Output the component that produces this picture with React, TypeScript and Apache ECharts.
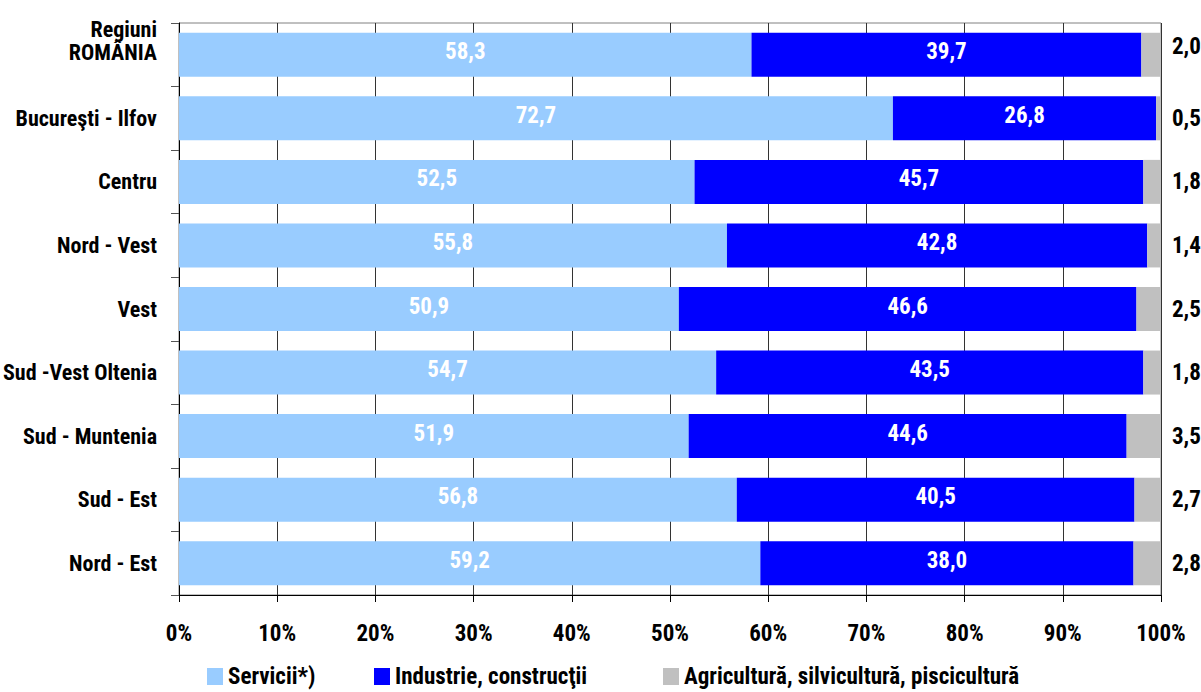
import React, { useEffect, useRef } from "react";
import * as echarts from "echarts";

const categories = [
  "Regiuni\nROMÂNIA",
  "Bucureşti - Ilfov",
  "Centru",
  "Nord - Vest",
  "Vest",
  "Sud -Vest Oltenia",
  "Sud - Muntenia",
  "Sud - Est",
  "Nord - Est",
];
const servicii = [58.3, 72.7, 52.5, 55.8, 50.9, 54.7, 51.9, 56.8, 59.2];
const industrie = [39.7, 26.8, 45.7, 42.8, 46.6, 43.5, 44.6, 40.5, 38.0];
const agricultura = [2.0, 0.5, 1.8, 1.4, 2.5, 1.8, 3.5, 2.7, 2.8];
const seriesNames = [
  "Servicii*)",
  "Industrie, construcţii",
  "Agricultură, silvicultură, piscicultură",
];
const colors = ["#99CCFF", "#0000FF", "#C0C0C0"];

const FONT = "'Liberation Sans Narrow', 'Arial Narrow', 'Roboto Condensed', Arial, sans-serif";
const fmt = (v: number) => v.toFixed(1).replace(".", ",");

export default function App() {
  const ref = useRef<HTMLDivElement>(null);
  useEffect(() => {
    if (!ref.current) return;
    const chart = echarts.init(ref.current, null, { renderer: "svg" });
    const innerLabel = {
      show: true,
      position: "inside",
      color: "#FFFFFF",
      fontWeight: "bold",
      fontSize: 23,
      fontFamily: FONT,
      offset: [0, -3],
      formatter: (p: any) => fmt(p.value),
    };
    const legendCommon = {
      top: 665,
      padding: 0,
      icon: "rect",
      itemWidth: 16,
      itemHeight: 17,
      itemGap: 0,
      textStyle: { fontSize: 23, fontWeight: "bold", fontFamily: FONT, color: "#000" },
    };
    chart.setOption({
      animation: false,
      backgroundColor: "#FFFFFF",
      grid: {
        left: 179,
        right: 40,
        top: 23,
        bottom: 97,
        show: true,
        borderColor: "#808080",
        borderWidth: 1,
      },
      legend: [
        { ...legendCommon, left: 207, data: [seriesNames[0]] },
        { ...legendCommon, left: 374, data: [seriesNames[1]] },
        { ...legendCommon, left: 663, data: [seriesNames[2]] },
      ],
      xAxis: {
        type: "value",
        min: 0,
        max: 100,
        interval: 10,
        axisLine: { show: true, lineStyle: { color: "#000", width: 1 } },
        axisTick: { show: true, length: 7, lineStyle: { color: "#000" } },
        splitLine: { show: true, lineStyle: { color: "#333", width: 1 } },
        axisLabel: {
          formatter: "{value}%",
          fontSize: 23,
          fontWeight: "bold",
          fontFamily: FONT,
          color: "#000",
          margin: 27,
        },
      },
      yAxis: {
        type: "category",
        inverse: true,
        data: categories,
        axisLine: { show: true, lineStyle: { color: "#000", width: 1 } },
        axisTick: { show: true, length: 8, lineStyle: { color: "#555" } },
        axisLabel: {
          fontSize: 22,
          fontWeight: "bold",
          fontFamily: FONT,
          color: "#000",
          margin: 22,
          formatter: (v: string, i: number) => {
            if (i === 0) return "{a|Regiuni}\n{a|ROMÂNIA}\n{b|}";
            return v;
          },
          rich: {
            a: { fontSize: 22, fontWeight: "bold", fontFamily: FONT, color: "#000", lineHeight: 23, align: "right" },
            b: { lineHeight: 28, fontSize: 10 },
          },
        },
      },
      series: [
        {
          name: seriesNames[0],
          type: "bar",
          stack: "total",
          barWidth: 44,
          itemStyle: { color: colors[0] },
          label: innerLabel,
          data: servicii,
        },
        {
          name: seriesNames[1],
          type: "bar",
          stack: "total",
          barWidth: 44,
          itemStyle: { color: colors[1] },
          label: innerLabel,
          data: industrie,
        },
        {
          name: seriesNames[2],
          type: "bar",
          stack: "total",
          barWidth: 44,
          itemStyle: { color: colors[2] },
          label: {
            show: true,
            position: "right",
            distance: 11,
            color: "#000",
            fontWeight: "bold",
            fontSize: 23,
            fontFamily: FONT,
            formatter: (p: any) => fmt(p.value),
          },
          data: agricultura.map((v, i) =>
            i === 0 ? { value: v, label: { offset: [0, -8] } } : v
          ),
        },
      ],
    });
    return () => chart.dispose();
  }, []);
  return (
    <div
      ref={ref}
      style={{ position: "absolute", left: 0, top: 0, width: 1201, height: 692 }}
    />
  );
}
